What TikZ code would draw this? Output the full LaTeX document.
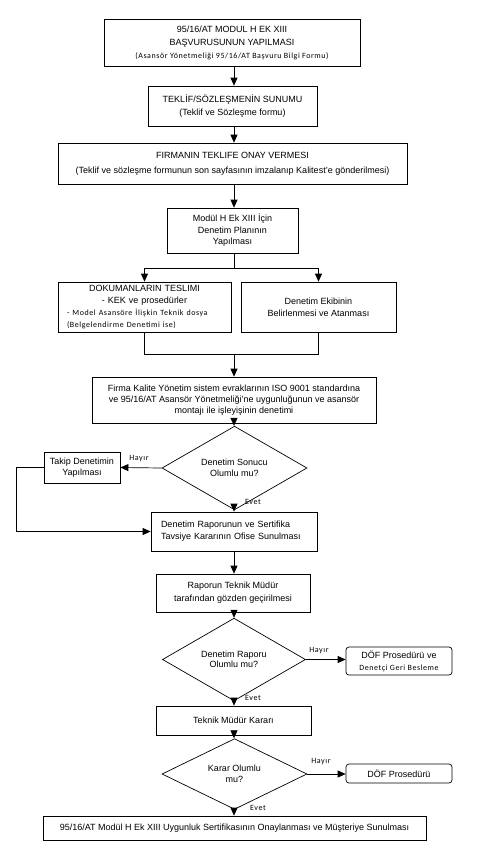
\documentclass[tikz,border=0pt]{standalone}
\usepackage{fontspec}
\setmainfont{Liberation Sans}
\newfontfamily\calfont[LetterSpace=7]{Carlito}
\usetikzlibrary{arrows.meta,shapes.geometric}
\begin{document}
\begin{tikzpicture}[x=1pt,y=-1pt,
  box/.style={draw, line width=0.7pt, inner sep=0pt, align=center, font=\fontsize{9}{13}\selectfont},
  dec/.style={draw, diamond, line width=0.7pt, inner sep=0pt, align=center, font=\fontsize{9}{10.5}\selectfont},
  rbox/.style={box, rounded corners=3pt},
  arr/.style={-{Triangle[length=8pt,width=7pt]}, line width=0.7pt},
  ln/.style={line width=0.7pt},
  lbl/.style={font=\calfont\fontsize{8}{9}\selectfont, inner sep=0pt}]
\useasboundingbox (0,0) rectangle (478,868);

\node[box, minimum width=256pt, minimum height=47pt] (b1) at (232,42.5)
  {95/16/AT MODUL H EK XIII\\BAŞVURUSUNUN YAPILMASI\\{\calfont\fontsize{8}{10}\selectfont (Asansör Yönetmeliği 95/16/AT Başvuru Bilgi Formu)}};
\node[box, minimum width=169pt, minimum height=40pt] (b2) at (232.5,106)
  {TEKLİF/SÖZLEŞMENİN SUNUMU\\(Teklif ve Sözleşme formu)};
\node[box, minimum width=349pt, minimum height=41pt, font=\fontsize{9}{15}\selectfont] (b3) at (232.5,163.5)
  {FIRMANIN TEKLIFE ONAY VERMESI\\(Teklif ve sözleşme formunun son sayfasının imzalanıp Kalitest'e gönderilmesi)};
\node[box, minimum width=131pt, minimum height=45pt, font=\fontsize{9}{11.5}\selectfont] (b4) at (232.5,230.5)
  {Modül H Ek XIII İçin\\Denetim Planının\\Yapılması};
\node[box, minimum width=173pt, minimum height=50pt, text width=155pt, inner xsep=9pt, align=left, font=\fontsize{9}{12.3}\selectfont] (b5) at (144.5,307)
  {\hfill DOKUMANLARIN TESLIMI\hfill\hbox{}\\
   \hfill - KEK ve prosedürler\hfill\hbox{}\\
   {\calfont\fontsize{8}{12}\selectfont - Model Asansöre İlişkin Teknik dosya}\\
   {\calfont\fontsize{8}{12}\selectfont (Belgelendirme Denetimi ise)}};
\node[box, minimum width=155pt, minimum height=50pt, font=\fontsize{9}{12}\selectfont] (b6) at (318.5,307)
  {Denetim Ekibinin\\Belirlenmesi ve Atanması};
\node[box, minimum width=284pt, minimum height=46pt, font=\fontsize{9}{11}\selectfont] (b7) at (234,400)
  {Firma Kalite Yönetim sistem evraklarının ISO 9001 standardına\\ve 95/16/AT Asansör Yönetmeliği'ne uygunluğunun ve asansör\\montajı ile işleyişinin denetimi};
\node[dec, minimum width=145pt, minimum height=50pt] (d1) at (234.5,468)
  {Denetim Sonucu\\Olumlu mu?};
\node[box, minimum width=76pt, minimum height=31pt, font=\fontsize{9}{11}\selectfont] (tk) at (82,467.5)
  {Takip Denetimin\\Yapılması};
\node[box, minimum width=166pt, minimum height=39pt, text width=152pt, inner xsep=7pt, align=left, font=\fontsize{9}{12}\selectfont] (b8) at (234,531.5)
  {\hspace*{3pt}Denetim Raporunun ve Sertifika\\\hspace*{3pt}Tavsiye Kararının Ofise Sunulması};
\node[box, minimum width=154pt, minimum height=38pt] (b9) at (233,593)
  {Raporun Teknik Müdür\\tarafından gözden geçirilmesi};
\node[dec, minimum width=143pt, minimum height=49pt] (d2) at (234,659.5)
  {Denetim Raporu\\Olumlu mu?};
\node[rbox, minimum width=106pt, minimum height=28pt, font=\fontsize{9}{12}\selectfont] (f1) at (399,661)
  {DÖF Prosedürü ve\\{\calfont\fontsize{8}{9}\selectfont Denetçi Geri Besleme}};
\node[box, minimum width=155pt, minimum height=29pt] (b10) at (233.5,720.5)
  {Teknik Müdür Kararı};
\node[dec, minimum width=145pt, minimum height=50pt, font=\fontsize{9}{11}\selectfont] (d3) at (234.5,774)
  {Karar Olumlu\\mu?};
\node[rbox, minimum width=106pt, minimum height=19pt] (f2) at (399,773.5)
  {DÖF Prosedürü};
\node[box, minimum width=383pt, minimum height=24pt] (b11) at (234.5,828)
  {95/16/AT Modül H Ek XIII Uygunluk Sertifikasının Onaylanması ve Müşteriye Sunulması};

\node[lbl] (h1) at (139,459) {Hayır};
\node[lbl] (e1) at (253,502) {Evet};
\node[lbl] (h2) at (319,651) {Hayır};
\node[lbl] (e2) at (253,698) {Evet};
\node[lbl] (h3) at (321,762) {Hayır};
\node[lbl] (e3) at (258,808) {Evet};

\coordinate (ax) at (234,0);
\coordinate (s1) at (234,268);
\coordinate (m1) at (234,354);
\coordinate (lp) at (16,0);

\draw[arr] (b1.south -| ax) -- (b2.north -| ax);
\draw[arr] (b2.south -| ax) -- (b3.north -| ax);
\draw[arr] (b3.south -| ax) -- (b4.north -| ax);
\draw[ln] (b4.south -| s1) -- (s1);
\draw[ln] (b5.north |- s1) -- (b6.north |- s1);
\draw[arr] (b5.north |- s1) -- (b5.north);
\draw[arr] (b6.north |- s1) -- (b6.north);
\draw[ln] (b5.south) -- (b5.south |- m1) -- (b6.south |- m1) -- (b6.south);
\draw[arr] (m1) -- (b7.north -| m1);
\draw[arr] (b7.south -| ax) -- (d1.north -| ax);
\draw[arr] (d1.west) -- (tk.east);
\draw[arr] (tk.west) -- (tk.west -| lp) |- (b8.west);
\draw[arr] (d1.south -| ax) -- (b8.north -| ax);
\draw[arr] (b8.south -| ax) -- (b9.north -| ax);
\draw[arr] (b9.south -| ax) -- (d2.north -| ax);
\draw[arr] (d2.east) -- (f1.west |- d2.east);
\draw[arr] (d2.south -| ax) -- (b10.north -| ax);
\draw[arr] (b10.south -| ax) -- (d3.north -| ax);
\draw[arr] (d3.east) -- (f2.west |- d3.east);
\draw[arr] (d3.south -| ax) -- (b11.north -| ax);
\end{tikzpicture}
\end{document}
